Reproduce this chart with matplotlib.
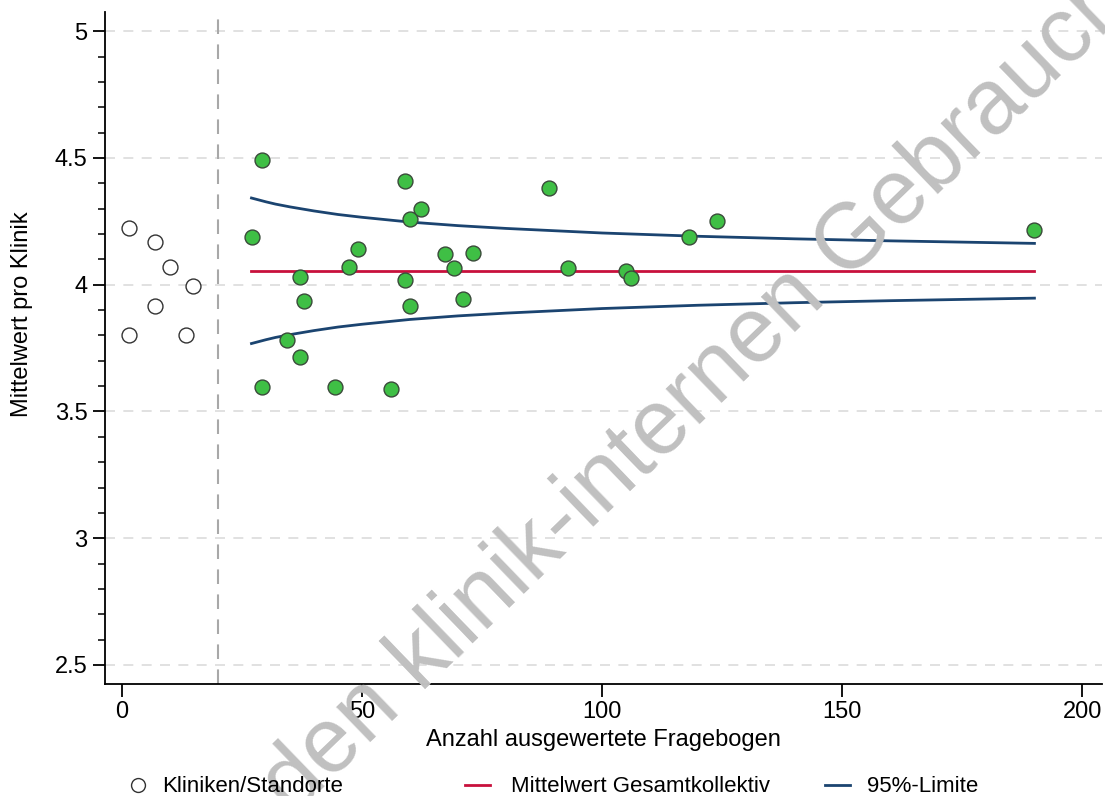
import matplotlib
matplotlib.use("Agg")
import matplotlib.pyplot as plt
from matplotlib.lines import Line2D
from matplotlib.ticker import MultipleLocator, FuncFormatter

plt.rcParams['font.family'] = ['Liberation Sans', 'DejaVu Sans']

# Kliniken unter der Mindestanzahl (offene Kreise)
n_klein = [1.5, 1.5, 6.9, 6.9, 10.0, 13.3, 14.8]
mw_klein = [4.225, 3.80, 4.17, 3.917, 4.07, 3.80, 3.996]

# Kliniken mit genug Fragebogen (gruene Punkte)
n_klinik = [27.2, 29.1, 29.1, 34.3, 37.2, 37.2, 38.0, 44.3, 47.2, 49.1, 56.1,
            59.0, 59.0, 60.1, 60.1, 62.2, 67.2, 69.2, 71.1, 73.2, 89.0, 92.9,
            105.0, 106.0, 118.1, 123.9, 190.0]
mw_klinik = [4.19, 4.49, 3.597, 3.78, 4.03, 3.716, 3.937, 3.597, 4.07, 4.14, 3.59,
             4.41, 4.02, 4.26, 3.917, 4.30, 4.12, 4.067, 3.945, 4.126, 4.38, 4.067,
             4.055, 4.028, 4.19, 4.25, 4.217]

mittelwert = 4.055
n_limite = [27, 28, 30, 32, 35, 40, 45, 50, 60, 70, 80, 100, 120, 140, 160, 190]
obere_limite = [4.342, 4.337, 4.327, 4.318, 4.307, 4.291, 4.277, 4.266, 4.247,
                4.233, 4.222, 4.204, 4.191, 4.181, 4.173, 4.163]
untere_limite = [3.768, 3.773, 3.783, 3.792, 3.803, 3.819, 3.833, 3.844, 3.863,
                 3.877, 3.888, 3.906, 3.919, 3.929, 3.937, 3.947]
mindestanzahl = 20

gruen = '#3fbf45'
rot = '#c8103c'
blau = '#1b4470'

fig = plt.figure(figsize=(11.05, 7.96), dpi=100)
ax = fig.add_axes([0.095, 0.1407, 0.902, 0.844])

ax.set_xlim(-3.5, 204)
ax.set_ylim(2.425, 5.075)

for yv in [2.5, 3, 3.5, 4, 4.5, 5]:
    ax.axhline(yv, color='#dcdcdc', lw=1.2, ls=(0, (6, 5)), zorder=1)
ax.axvline(mindestanzahl, color='#a8a8a8', lw=1.5, ls=(0, (7, 5)), zorder=1)

ax.plot([n_limite[0], n_limite[-1]], [mittelwert, mittelwert], color=rot, lw=2, zorder=3)
ax.plot(n_limite, obere_limite, color=blau, lw=2, zorder=3)
ax.plot(n_limite, untere_limite, color=blau, lw=2, zorder=3)

ax.scatter(n_klein, mw_klein, s=115, facecolor='white', edgecolor='#333333', lw=1, zorder=4)
ax.scatter(n_klinik, mw_klinik, s=115, facecolor=gruen, edgecolor='#3a4a3a', lw=1, zorder=4)

ax.spines['top'].set_visible(False)
ax.spines['right'].set_visible(False)
ax.spines['left'].set_linewidth(1.3)
ax.spines['bottom'].set_linewidth(1.3)

ax.set_xticks([0, 50, 100, 150, 200])
ax.set_yticks([2.5, 3, 3.5, 4, 4.5, 5])
ax.yaxis.set_minor_locator(MultipleLocator(0.1))
ax.yaxis.set_major_formatter(FuncFormatter(lambda v, p: ('%g' % v)))
ax.tick_params(axis='both', which='major', labelsize=17, length=9, width=1.3)
ax.tick_params(axis='y', which='minor', length=5, width=1.1)

ax.set_xlabel('Anzahl ausgewertete Fragebogen', fontsize=17, labelpad=4)
ax.set_ylabel('Mittelwert pro Klinik', fontsize=17)
ax.yaxis.set_label_coords(-0.072, 0.55)

# Wasserzeichen (Grundlinie beginnt unterhalb der Abbildung)
fig.text(0.0662, -0.2928, 'Nur für den klinik-internen Gebrauch', fontsize=66,
         color='#c0c0c0', rotation=44, ha='left', va='baseline',
         rotation_mode='anchor', zorder=2)

leg_y = 1 - 787 / 796
eintraege = [
    (Line2D([], [], marker='o', ls='none', markersize=10, markerfacecolor='white',
            markeredgecolor='#333333'), 'Kliniken/Standorte', 126, 0.5),
    (Line2D([], [], color=rot, lw=2), 'Mittelwert Gesamtkollektiv', 465, 0.95),
    (Line2D([], [], color=blau, lw=2), '95%-Limite', 825, 0.75),
]
for handle, text, px, pad in eintraege:
    fig.legend([handle], [text], loc='center left', bbox_to_anchor=(px / 1105, leg_y),
               frameon=False, fontsize=16, handlelength=1.12, handletextpad=pad,
               borderpad=0, borderaxespad=0)

fig.savefig('out.png', dpi=100)
